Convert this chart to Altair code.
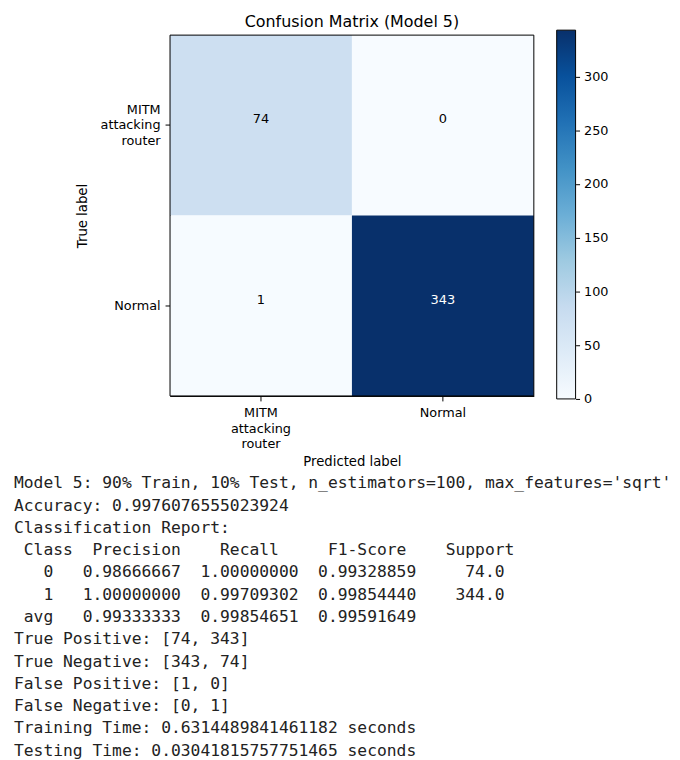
import altair as alt
import pandas as pd

# ---------------- data ----------------
chart_title = "Confusion Matrix (Model 5)"
classes = ["MITM attacking router", "Normal"]
matrix = [[74, 0], [1, 343]]
x_title = "Predicted label"
y_title = "True label"
colorbar_ticks = [0, 50, 100, 150, 200, 250, 300]
blues = ["#f7fbff", "#deebf7", "#c6dbef", "#9ecae1", "#6baed6",
         "#4292c6", "#2171b5", "#08519c", "#08306b"]

model_line = "Model 5: 90% Train, 10% Test, n_estimators=100, max_features='sqrt'"
accuracy = "0.9976076555023924"
report_classes = ["0", "1", "avg"]
precision = ["0.98666667", "1.00000000", "0.99333333"]
recall = ["1.00000000", "0.99709302", "0.99854651"]
f1_score = ["0.99328859", "0.99854440", "0.99591649"]
support = ["74.0", "344.0", ""]
true_positive = [74, 343]
true_negative = [343, 74]
false_positive = [1, 0]
false_negative = [0, 1]
training_time = "0.6314489841461182"
testing_time = "0.03041815757751465"

# ---------------- text block ----------------
lines = [
    model_line,
    f"Accuracy: {accuracy}",
    "Classification Report:",
    " Class" + "  " + "Precision" + "    " + "Recall" + "     " + "F1-Score" + "    " + "Support",
]
for c, p, r, f, s in zip(report_classes, precision, recall, f1_score, support):
    lines.append(f"{c:>4}   {p}  {r}  {f}  {s:>7}".rstrip())
lines += [
    f"True Positive: {true_positive}",
    f"True Negative: {true_negative}",
    f"False Positive: {false_positive}",
    f"False Negative: {false_negative}",
    f"Training Time: {training_time} seconds",
    f"Testing Time: {testing_time} seconds",
]
# keep spaces (incl. leading ones) as real monospace cells
lines = ["\u200b" + ln.replace(" ", "\u00a0") for ln in lines]

rows = []
for i, t in enumerate(classes):
    for j, p in enumerate(classes):
        rows.append({"true": t, "pred": p, "count": matrix[i][j]})
df = pd.DataFrame(rows)
vmax = max(max(r) for r in matrix)
stops = [vmax * k / (len(blues) - 1) for k in range(len(blues))]

W, H = 366, 363
FONT = "DejaVu Sans"
LH = 15.5

x_enc = alt.X("pred:N", sort=classes, title=x_title,
              axis=alt.Axis(labelAngle=0, labelExpr="split(datum.label, ' ')",
                            labelBaseline="top", labelLineHeight=LH,
                            labelPadding=6, tickSize=5, titlePadding=4))
y_enc = alt.Y("true:N", sort=classes, title=y_title,
              axis=alt.Axis(labelExpr="split(datum.label, ' ')",
                            labelBaseline="middle", labelAlign="right",
                            labelLineHeight=LH, labelPadding=5, tickSize=5,
                            labelOffset={"condition": {"test": "indexof(datum.label, ' ') >= 0",
                                                       "value": -LH},
                                         "value": 0},
                            titlePadding=11))

heat = alt.Chart(df).mark_rect().encode(
    x=x_enc, y=y_enc,
    color=alt.Color("count:Q", legend=None,
                    scale=alt.Scale(domain=stops, range=blues, interpolate="rgb")),
)
nums = alt.Chart(df).mark_text(baseline="alphabetic", fontSize=13, font=FONT, dy=-2).encode(
    x=alt.X("pred:N", sort=classes),
    y=alt.Y("true:N", sort=classes),
    text="count:Q",
    color=alt.condition(alt.datum["count"] > vmax / 2, alt.value("white"), alt.value("black")),
)
frame = alt.Chart(pd.DataFrame({"k": [0]})).mark_rect(
    fill="transparent", stroke="black", strokeWidth=1
).encode(x=alt.value(0), x2=alt.value("width"), y=alt.value(0), y2=alt.value("height"))
matrix_layer = alt.layer(heat, nums, frame)

cbar_df = pd.DataFrame({"lo": [0], "hi": [vmax]})
gradient = alt.Gradient(
    gradient="linear",
    stops=[alt.GradientStop(color=c, offset=k / (len(blues) - 1)) for k, c in enumerate(blues)],
    x1=0, x2=0, y1=1, y2=0,
)
cbar = alt.Chart(cbar_df).mark_rect(fill=gradient, stroke="black", strokeWidth=1).encode(
    x=alt.value(389), x2=alt.value(408),
    y=alt.Y("lo:Q", title=None,
            scale=alt.Scale(domain=[0, vmax], range=[H + 3, -5], nice=False, zero=False),
            axis=alt.Axis(orient="right", offset=42, values=colorbar_ticks, domain=False,
                          tickSize=4, labelPadding=4, grid=False)),
    y2="hi:Q",
)

report = alt.Chart(pd.DataFrame({"k": [0]})).mark_text(
    align="left", baseline="top", font="DejaVu Sans Mono", fontSize=16.4,
    lineHeight=22.4, color="#222222",
).encode(x=alt.value(-157), y=alt.value(443), text=alt.value(lines))

chart = alt.layer(matrix_layer, cbar, report).resolve_scale(
    y="independent"
).resolve_axis(y="independent").properties(
    width=W, height=H,
    title=alt.Title(chart_title, fontSize=16, font=FONT, fontWeight="normal",
                    color="black", anchor="middle", frame="group", offset=0),
    autosize=alt.AutoSizeParams(type="none"),
    padding={"left": 163, "top": 25, "right": 139, "bottom": 370},
).configure_view(stroke=None).configure_axis(
    labelFont=FONT, titleFont=FONT, labelFontSize=12.9, titleFontSize=13.3,
    titleFontWeight="normal", labelColor="black", titleColor="black",
    tickColor="black", domainColor="black", zindex=1, grid=False,
)

chart.save("out.html", embed_options={"renderer": "svg", "actions": False})
